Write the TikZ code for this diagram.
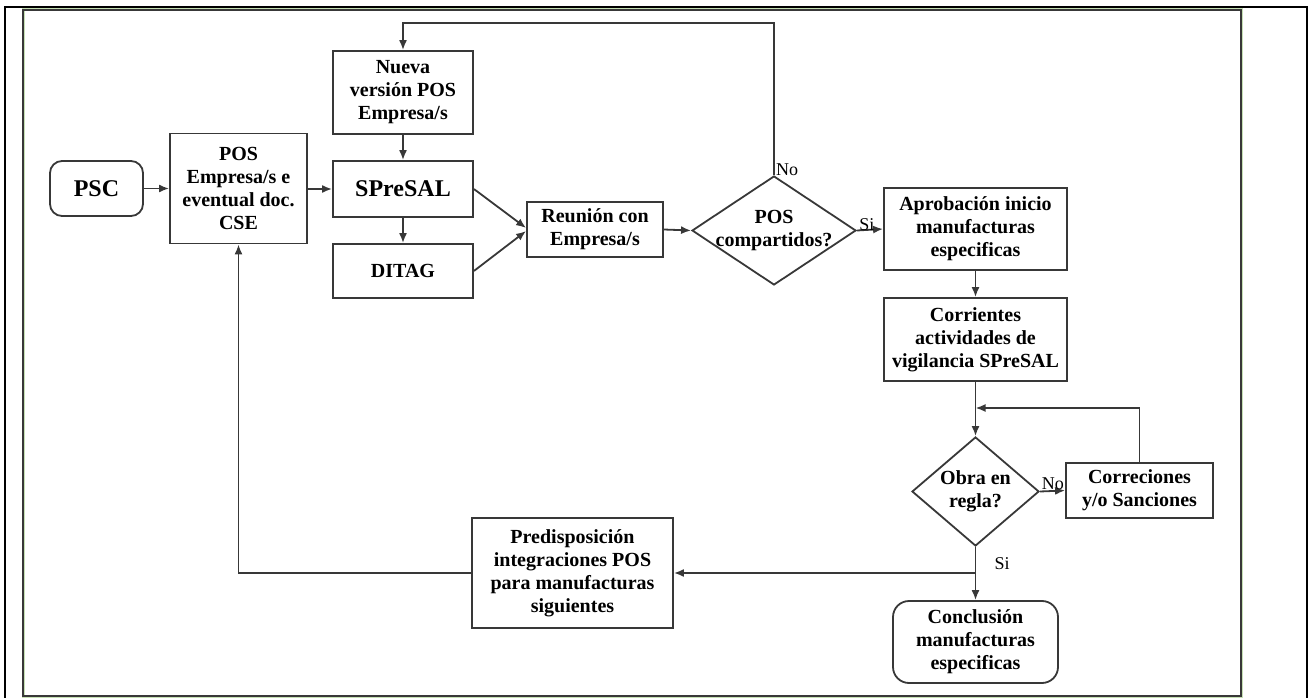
\documentclass[tikz,border=0pt]{standalone}
\usepackage{fontspec}
\setmainfont{Liberation Serif}
\usetikzlibrary{shapes.geometric,arrows.meta}
\definecolor{ln}{HTML}{383838}
\definecolor{frgreen}{HTML}{C6E0B4}
\tikzset{
  box/.style={draw=ln, line width=1.8pt, fill=white, inner sep=2pt, align=center,
    font=\bfseries\fontsize{20}{23}\selectfont},
  rbox/.style={box, rounded corners=12pt},
  dec/.style={draw=ln, line width=1.8pt, shape=diamond, inner sep=0pt},
  dtext/.style={align=center, font=\bfseries\fontsize{20}{23}\selectfont},
  lbl/.style={font=\fontsize{18}{20}\selectfont, inner sep=1pt},
  conn/.style={draw=ln, line width=1.8pt, -{Latex[length=10pt,width=8pt]}}
}
\begin{document}
\begin{tikzpicture}[x=1pt,y=-1pt]
\useasboundingbox (0,0) rectangle (1310,698);
% frames
\draw[black, line width=2.5pt] (5,720) -- (5,7) -- (1307,7) -- (1307,720);
\draw[frgreen, line width=3pt] (23,10) rectangle (1241,696);
\draw[ln, line width=1.2pt] (23,10) rectangle (1241,696);
% nodes
\node[rbox, minimum width=93pt, minimum height=55pt, font=\bfseries\fontsize{24}{26}\selectfont] (psc) at (96.5,188.5) {PSC};
\node[box, minimum width=137pt, minimum height=110pt] (pos) at (238.5,188.5) {POS\\Empresa/s e\\eventual doc.\\CSE};
\node[box, minimum width=140pt, minimum height=83pt] (nueva) at (403,92.5) {Nueva\\versión POS\\Empresa/s};
\node[box, minimum width=140pt, minimum height=56pt, font=\bfseries\fontsize{24}{26}\selectfont] (spresal) at (403,189) {SPreSAL};
\node[box, minimum width=140pt, minimum height=54pt] (ditag) at (403,271) {DITAG};
\node[box, minimum width=136pt, minimum height=55pt] (reunion) at (595,229.5) {Reunión con\\Empresa/s};
\node[dec, minimum width=164pt, minimum height=109pt] (d1) at (774,230.5) {};
\node[dtext] (d1t) at (d1.center) {POS\\compartidos?};
\node[box, minimum width=183pt, minimum height=82pt] (aprob) at (975.5,229) {Aprobación inicio\\manufacturas\\especificas};
\node[box, minimum width=183pt, minimum height=83pt] (corr) at (975.5,339.5) {Corrientes\\actividades de\\vigilancia SPreSAL};
\node[dec, minimum width=127pt, minimum height=109pt] (d2) at (975.5,491.5) {};
\node[dtext] (d2t) at (d2.center) {Obra en\\regla?};
\node[box, minimum width=147pt, minimum height=55pt] (correc) at (1139.5,490.5) {Correciones\\y/o Sanciones};
\node[rbox, rounded corners=16pt, minimum width=165pt, minimum height=82pt] (concl) at (975.5,642) {Conclusión\\manufacturas\\especificas};
\node[box, minimum width=201pt, minimum height=110pt] (predis) at (572.5,573) {Predisposición\\integraciones POS\\para manufacturas\\siguientes};
% junctions
\coordinate (top) at (774,23);
\coordinate (j1) at (975.5,408);
\coordinate (j2) at (975.5,573);
% connectors
\draw[conn] (psc.east) -- (pos.west);
\draw[conn] (pos.east |- spresal.west) -- (spresal.west);
\draw[conn] (nueva.south) -- (spresal.north);
\draw[conn] (spresal.south) -- (ditag.north);
\draw[conn] (spresal.east) -- ([yshift=1.5pt]reunion.west);
\draw[conn] (ditag.east) -- ([yshift=-1.5pt]reunion.west);
\draw[conn] (reunion.east) -- (d1.west);
\draw[conn] (d1.north) -- (top) -| (nueva.north);
\node[lbl, anchor=south west] (no1) at ([xshift=1pt,yshift=-2pt]d1.north) {No};
\draw[conn] (d1.east) -- (aprob.west);
\node[lbl, anchor=south] (si1) at ([xshift=10pt,yshift=-1pt]d1.east) {Si};
\draw[conn] (aprob.south) -- (corr.north);
\draw[conn] (corr.south) -- (d2.north);
\draw[conn] (d2.east) -- (correc.west);
\node[lbl, anchor=south] (no2) at ([xshift=13pt,yshift=1pt]d2.east) {No};
\draw[conn] (correc.north) |- (j1);
\draw[conn] (d2.south) -- (concl.north);
\node[lbl, anchor=west] (si2) at ([xshift=18pt,yshift=-17pt]d2.south) {Si};
\draw[conn] (j2) -- (predis.east);
\draw[conn] (predis.west) -| (pos.south);
\end{tikzpicture}
\end{document}
